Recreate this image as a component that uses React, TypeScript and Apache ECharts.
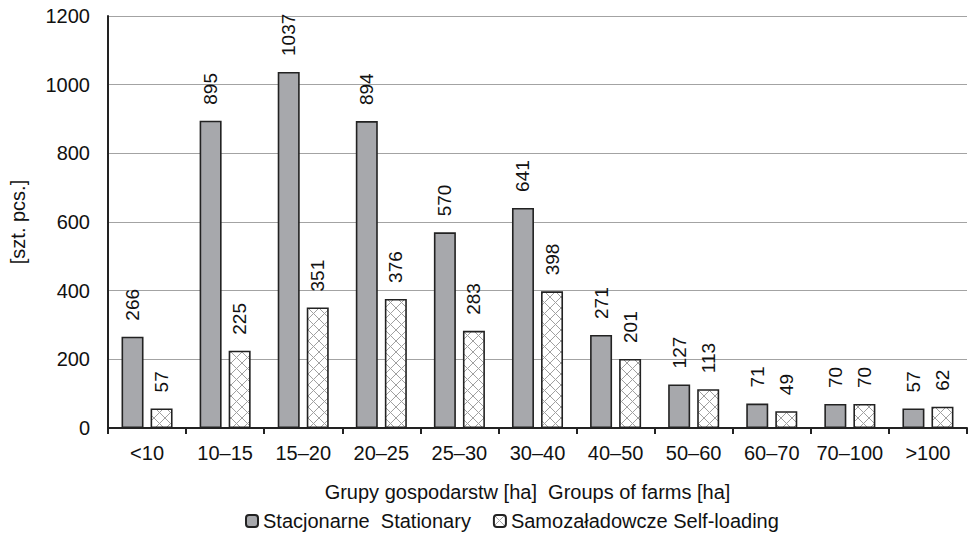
import React, { useEffect, useRef } from "react";
import * as echarts from "echarts";

const categories = ["<10", "10–15", "15–20", "20–25", "25–30", "30–40", "40–50", "50–60", "60–70", "70–100", ">100"];
const stationary = [266, 895, 1037, 894, 570, 641, 271, 127, 71, 70, 57];
const selfLoading = [57, 225, 351, 376, 283, 398, 201, 113, 49, 70, 62];
const yTicks = { min: 0, max: 1200, interval: 200 };

const FONT = "'Liberation Sans', Arial, sans-serif";
const FS = 20;
const FS_LABEL = 19;

// crosshatch tile for the self-loading bars
function makeHatch(): HTMLCanvasElement {
  const size = 11;
  const c = document.createElement("canvas");
  c.width = size;
  c.height = size;
  const ctx = c.getContext("2d")!;
  ctx.fillStyle = "#ffffff";
  ctx.fillRect(0, 0, size, size);
  ctx.strokeStyle = "#a0a0a0";
  ctx.lineWidth = 1;
  ctx.beginPath();
  ctx.moveTo(0, 0);
  ctx.lineTo(size, size);
  ctx.moveTo(size, 0);
  ctx.lineTo(0, size);
  ctx.stroke();
  return c;
}

export default function App() {
  const ref = useRef<HTMLDivElement>(null);

  useEffect(() => {
    if (!ref.current) return;
    const chart = echarts.init(ref.current, undefined, { renderer: "svg" });
    const hatch = makeHatch();
    const label = {
      show: true,
      position: "top" as const,
      rotate: 90,
      align: "left" as const,
      verticalAlign: "middle" as const,
      distance: 16,
      fontFamily: FONT,
      fontSize: FS_LABEL,
      color: "#111",
    };
    chart.setOption({
      animation: false,
      backgroundColor: "#ffffff",
      textStyle: { fontFamily: FONT },
      grid: { left: 103, right: 3, top: 16, bottom: 110, containLabel: false },
      legend: {
        bottom: 2,
        left: 240,
        itemWidth: 12,
        itemHeight: 12,
        itemGap: 22,
        textStyle: { fontFamily: FONT, fontSize: FS, color: "#111" },
        data: ["Stacjonarne  Stationary", "Samozaładowcze Self-loading"],
      },
      xAxis: {
        type: "category",
        data: categories,
        name: "Grupy gospodarstw [ha]  Groups of farms [ha]",
        nameLocation: "middle",
        nameGap: 54,
        nameTextStyle: { fontFamily: FONT, fontSize: FS, color: "#111", padding: [0, 20, 0, 0] },
        axisLine: { lineStyle: { color: "#222", width: 2 } },
        axisTick: { show: true, length: 6, lineStyle: { color: "#222", width: 2 } },
        axisLabel: { interval: 0, fontFamily: FONT, fontSize: FS, color: "#111", margin: 15 },
      },
      yAxis: {
        type: "value",
        min: yTicks.min,
        max: yTicks.max,
        interval: yTicks.interval,
        name: "[szt. pcs.]",
        nameLocation: "middle",
        nameGap: 80,
        nameTextStyle: { fontFamily: FONT, fontSize: FS, color: "#111" },
        axisLine: { show: true, lineStyle: { color: "#222", width: 2 } },
        axisTick: { show: false },
        axisLabel: {
          fontFamily: FONT,
          fontSize: FS,
          color: "#111",
          margin: 18,
          formatter: (v: number) => String(v),
        },
        splitLine: { lineStyle: { color: "#a3a3a3", width: 1 } },
      },
      series: [
        {
          name: "Stacjonarne  Stationary",
          type: "bar",
          data: stationary,
          barWidth: 22,
          barGap: "32%",
          itemStyle: { color: "#a7a8ac", borderColor: "#222", borderWidth: 1.6 },
          label,
        },
        {
          name: "Samozaładowcze Self-loading",
          type: "bar",
          data: selfLoading,
          barWidth: 22,
          itemStyle: {
            color: { image: hatch, repeat: "repeat" },
            borderColor: "#222",
            borderWidth: 1.6,
          },
          label,
        },
      ],
    });
    return () => chart.dispose();
  }, []);

  return (
    <div
      ref={ref}
      style={{ position: "fixed", left: 0, top: 0, width: 970, height: 538, background: "#fff" }}
    />
  );
}
